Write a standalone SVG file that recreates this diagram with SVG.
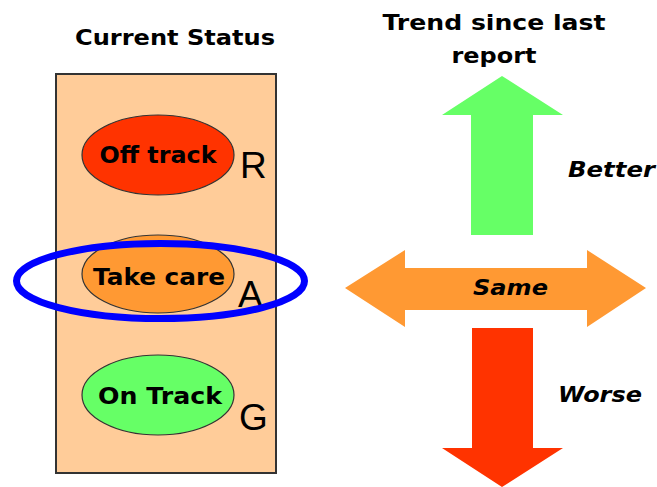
<svg xmlns="http://www.w3.org/2000/svg" width="657" height="487" viewBox="0 0 657 487">
<style>
.t{font-family:"DejaVu Sans","Liberation Sans",sans-serif;font-weight:bold;fill:#000}
.i{font-style:italic}
.l{font-family:"Liberation Sans",Arial,sans-serif;fill:#000}
.st{stroke:#333;stroke-width:1.2}
</style>
<rect width="657" height="487" fill="#fff"/>
<g id="status-box">
<rect x="56" y="74" width="220" height="399" fill="#FFCC99" stroke="#333" stroke-width="2"/>
<text class="t" x="175" y="45" font-size="21" text-anchor="middle" textLength="200" lengthAdjust="spacingAndGlyphs">Current Status</text>
</g>
<g id="off-track">
<ellipse cx="158" cy="155" rx="76" ry="40" fill="#FF3300" class="st"/>
<text class="t" x="158" y="163" font-size="23.5" text-anchor="middle" textLength="117" lengthAdjust="spacingAndGlyphs">Off track</text>
<text class="l" x="240" y="178" font-size="37">R</text>
</g>
<g id="take-care">
<ellipse cx="158" cy="274" rx="76" ry="39" fill="#FF9933" class="st"/>
<text class="t" x="159" y="285" font-size="23.5" text-anchor="middle" textLength="132" lengthAdjust="spacingAndGlyphs">Take care</text>
<text class="l" x="238" y="307" font-size="37">A</text>
</g>
<g id="on-track">
<ellipse cx="158" cy="395" rx="76" ry="40" fill="#66FF66" class="st"/>
<text class="t" x="160" y="404" font-size="23.5" text-anchor="middle" textLength="124" lengthAdjust="spacingAndGlyphs">On Track</text>
<text class="l" x="239" y="430" font-size="37">G</text>
</g>
<g id="highlight">
<ellipse cx="160.5" cy="281" rx="144" ry="37.5" fill="none" stroke="#0000FF" stroke-width="7"/>
</g>
<g id="trend-title">
<text class="t" x="494" y="30" font-size="21" text-anchor="middle" textLength="223" lengthAdjust="spacingAndGlyphs">Trend since last</text>
<text class="t" x="494" y="63" font-size="21" text-anchor="middle" textLength="85" lengthAdjust="spacingAndGlyphs">report</text>
</g>
<g id="better">
<polygon points="502,76 563,115 533,115 533,235 471,235 471,115 442,115" fill="#66FF66"/>
<text class="t i" x="568" y="177" font-size="22" textLength="87" lengthAdjust="spacingAndGlyphs">Better</text>
</g>
<g id="same">
<polygon points="345,288 405,250 405,268 587,268 587,250 646,288 587,327 587,310 405,310 405,327" fill="#FF9933"/>
<text class="t i" x="473" y="295" font-size="22" textLength="75" lengthAdjust="spacingAndGlyphs">Same</text>
</g>
<g id="worse">
<polygon points="472,328 533,328 533,448 563,448 502,487 442,448 472,448" fill="#FF3300"/>
<text class="t i" x="558" y="402" font-size="22" textLength="84" lengthAdjust="spacingAndGlyphs">Worse</text>
</g>
<g id="connectors"></g>
</svg>
